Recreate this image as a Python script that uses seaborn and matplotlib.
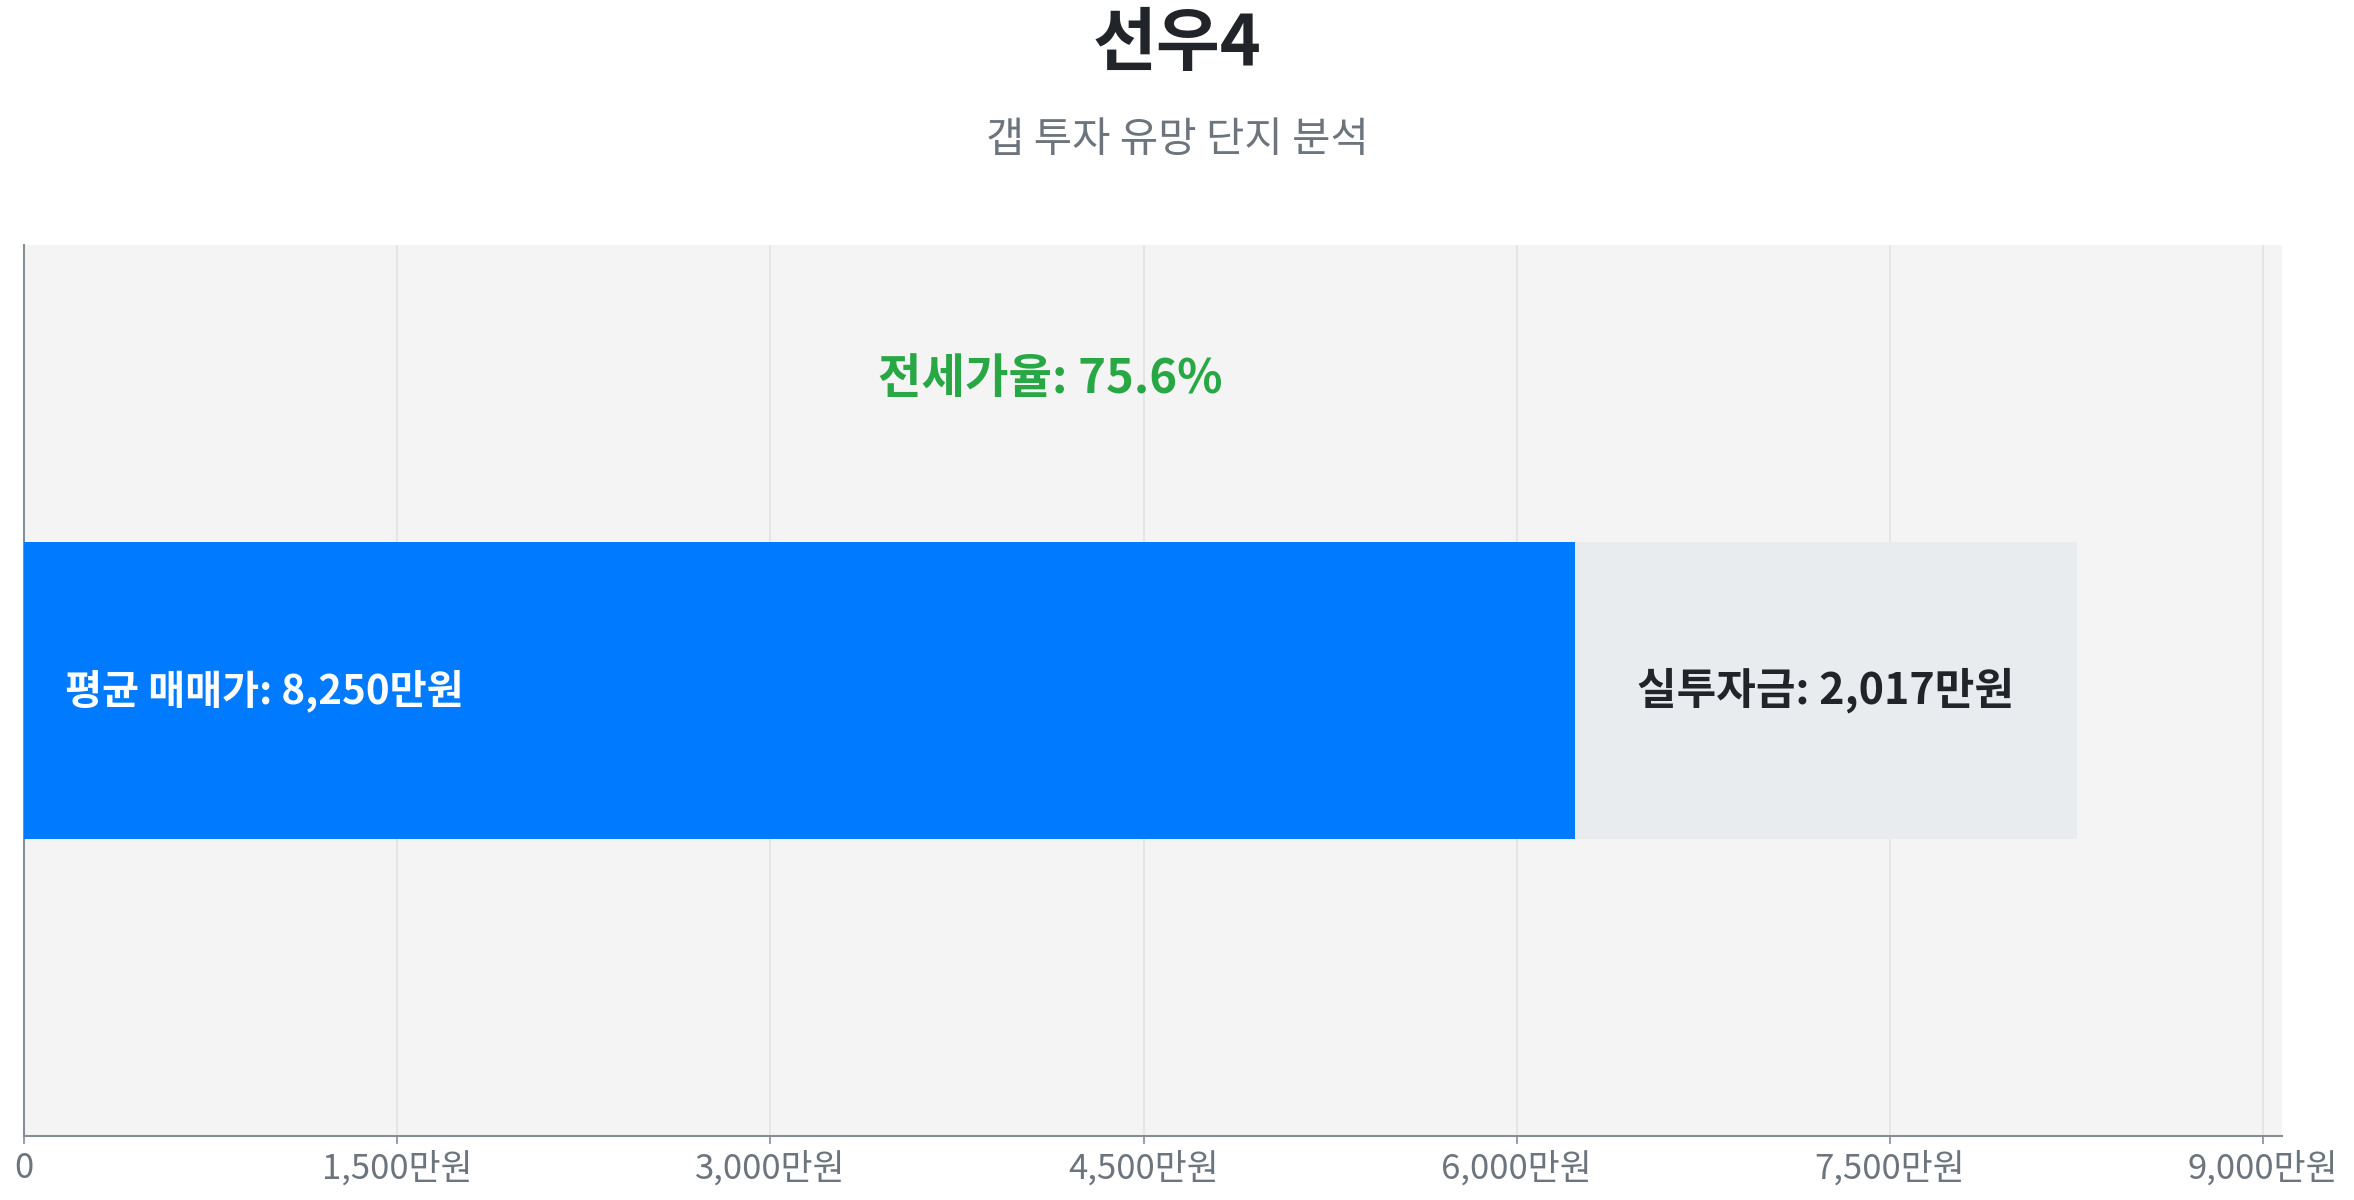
import matplotlib
matplotlib.use("Agg")
import matplotlib.pyplot as plt
import seaborn as sns
import pandas as pd
from matplotlib.ticker import FuncFormatter

# Data
complex_name = "선우4"
avg_price = [8250]        # 평균 매매가 (만원)
invest_amount = [2017]    # 실투자금 (만원)
jeonse_ratio = [75.6]     # 전세가율 (%)
xtick_values = [0, 1500, 3000, 4500, 6000, 7500, 9000]

sns.set_theme(style="white")
plt.rcParams["font.family"] = ["Noto Sans CJK KR", "DejaVu Sans"]

jeonse_amount = [p - i for p, i in zip(avg_price, invest_amount)]
df = pd.DataFrame({
    "name": [complex_name],
    "price": avg_price,
    "jeonse": jeonse_amount,
})

fig = plt.figure(figsize=(23.54, 12), dpi=100)
ax = fig.add_axes([0.0102, 0.0533, 0.9592, 0.7425])
ax.set_facecolor("#f4f4f4")

# full price bar (grey = 실투자금 part shows), then jeonse part in blue
sns.barplot(data=df, x="price", y="name", orient="h", color="#e9ecef",
            width=1.0, saturation=1, linewidth=0, ax=ax, zorder=2)
sns.barplot(data=df, x="jeonse", y="name", orient="h", color="#007bff",
            width=1.0, saturation=1, linewidth=0, ax=ax, zorder=3)

ax.set_ylim(-1.5, 1.5)
ax.set_xlim(0, avg_price[0] * 1.1)
ax.set_xticks(xtick_values)
ax.xaxis.set_major_formatter(FuncFormatter(lambda v, _: "0" if v == 0 else f"{v:,.0f}만원"))
ax.set_yticks([])
ax.set_xlabel("")
ax.set_ylabel("")

ax.grid(axis="x", color="#e3e3e3", linewidth=1.2, zorder=0)
ax.set_axisbelow(True)
for s in ["top", "right"]:
    ax.spines[s].set_visible(False)
for s in ["left", "bottom"]:
    ax.spines[s].set_color("#868e96")
    ax.spines[s].set_linewidth(1.5)
ax.tick_params(axis="x", colors="#868e96", labelcolor="#6c757d", labelsize=25,
               length=6, width=1.2, bottom=True, pad=5)

# labels
ax.text(avg_price[0] * 0.02, 0, f"평균 매매가: {avg_price[0]:,}만원",
        color="white", fontsize=29, fontweight="bold", va="center", ha="left", zorder=4)
ax.text(jeonse_amount[0] + invest_amount[0] / 2, 0, f"실투자금: {invest_amount[0]:,}만원",
        color="#212529", fontsize=31, fontweight="bold", va="center", ha="center", zorder=4)
ax.text(avg_price[0] / 2, 1.05, f"전세가율: {jeonse_ratio[0]}%",
        color="#28a745", fontsize=34, fontweight="bold", va="center", ha="center", zorder=4)

fig.text(0.5, 0.963, complex_name, ha="center", va="center",
         fontsize=50, fontweight="bold", color="#212529")
fig.text(0.5, 0.883, "갭 투자 유망 단지 분석", ha="center", va="center",
         fontsize=30, color="#6c757d")

fig.savefig("out.png", dpi=100, facecolor="white")
